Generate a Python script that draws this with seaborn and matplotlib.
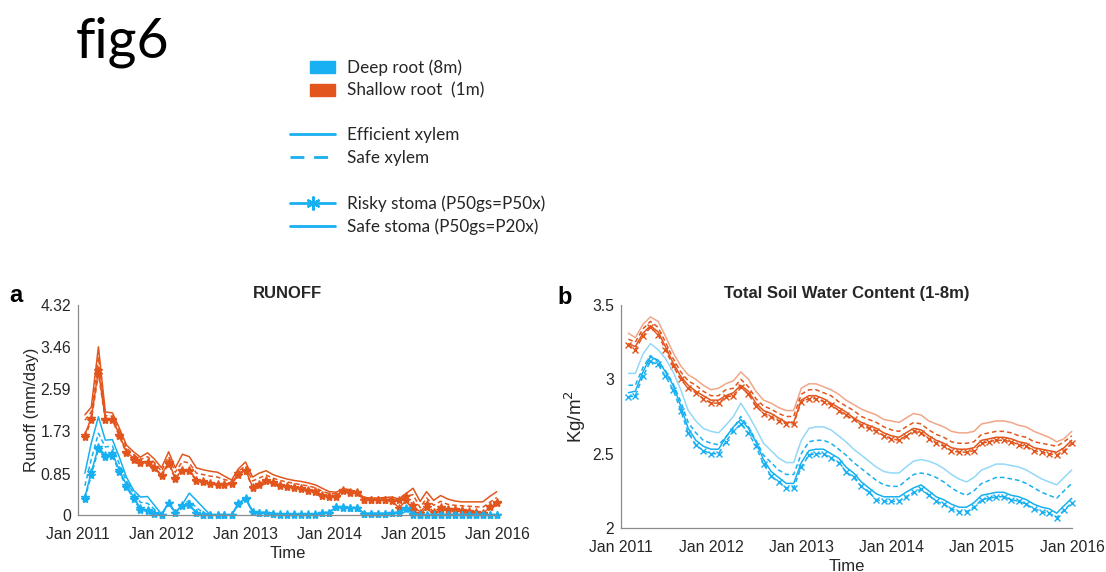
import pandas as pd
import matplotlib
matplotlib.use("Agg")
import matplotlib.pyplot as plt
import matplotlib.dates as mdates
from matplotlib.lines import Line2D
from matplotlib.patches import Patch, Rectangle
from matplotlib.legend_handler import HandlerPatch
import seaborn as sns

# ---------------------------------------------------------------- data
# monthly values, Jan 2011 .. Dec 2015 (month-end dates)
months = pd.date_range("2011-01-01", periods=60, freq="MS") + pd.offsets.MonthEnd(0)

# Runoff (mm/day) -- shallow root (1 m)
runoff_shallow_safe_eff = [2.06, 2.22, 3.46, 2.12, 2.10, 1.79, 1.44, 1.30, 1.19, 1.28, 1.15, 0.97,
                           1.30, 0.97, 1.25, 1.20, 0.97, 0.93, 0.90, 0.88, 0.80, 0.72, 0.95, 1.09,
                           0.78, 0.86, 0.91, 0.83, 0.78, 0.74, 0.71, 0.69, 0.66, 0.62, 0.55, 0.48,
                           0.47, 0.54, 0.52, 0.48, 0.36, 0.35, 0.35, 0.36, 0.37, 0.33, 0.44, 0.55,
                           0.28, 0.48, 0.30, 0.40, 0.33, 0.29, 0.27, 0.27, 0.27, 0.27, 0.38, 0.48]
runoff_shallow_safe_safe = [1.95, 2.12, 3.25, 2.05, 2.03, 1.72, 1.38, 1.24, 1.14, 1.20, 1.08, 0.90,
                            1.20, 0.88, 1.10, 1.07, 0.86, 0.83, 0.80, 0.78, 0.73, 0.69, 0.90, 1.01,
                            0.70, 0.76, 0.82, 0.76, 0.71, 0.68, 0.65, 0.62, 0.60, 0.56, 0.49, 0.44,
                            0.44, 0.53, 0.50, 0.47, 0.34, 0.33, 0.33, 0.34, 0.34, 0.27, 0.38, 0.42,
                            0.15, 0.35, 0.20, 0.28, 0.22, 0.20, 0.19, 0.18, 0.17, 0.16, 0.26, 0.36]
runoff_shallow_risky_eff = [1.65, 2.00, 2.98, 1.98, 1.98, 1.65, 1.30, 1.17, 1.09, 1.10, 0.99, 0.82,
                            1.09, 0.76, 0.93, 0.93, 0.72, 0.70, 0.66, 0.64, 0.64, 0.65, 0.86, 0.93,
                            0.58, 0.64, 0.72, 0.67, 0.62, 0.60, 0.57, 0.55, 0.52, 0.50, 0.41, 0.40,
                            0.40, 0.51, 0.47, 0.47, 0.31, 0.31, 0.31, 0.31, 0.30, 0.14, 0.30, 0.10,
                            0.00, 0.16, 0.00, 0.10, 0.10, 0.08, 0.08, 0.05, 0.03, 0.02, 0.16, 0.24]
runoff_shallow_risky_safe = [1.60, 1.95, 2.90, 1.96, 1.95, 1.62, 1.27, 1.14, 1.07, 1.08, 0.97, 0.80,
                             1.05, 0.74, 0.91, 0.90, 0.70, 0.68, 0.64, 0.62, 0.62, 0.63, 0.83, 0.90,
                             0.56, 0.62, 0.70, 0.65, 0.60, 0.58, 0.55, 0.53, 0.50, 0.48, 0.40, 0.38,
                             0.38, 0.49, 0.46, 0.45, 0.30, 0.30, 0.30, 0.30, 0.28, 0.30, 0.40, 0.20,
                             0.05, 0.22, 0.06, 0.16, 0.13, 0.12, 0.11, 0.09, 0.07, 0.05, 0.18, 0.26]

# Runoff (mm/day) -- deep root (8 m)
runoff_deep_safe_eff = [0.86, 1.48, 2.02, 1.54, 1.55, 1.19, 0.78, 0.51, 0.37, 0.38, 0.20, 0.02,
                        0.25, 0.05, 0.22, 0.45, 0.30, 0.15, 0.00, 0.00, 0.00, 0.00, 0.22, 0.35,
                        0.07, 0.05, 0.05, 0.03, 0.02, 0.02, 0.02, 0.02, 0.02, 0.02, 0.04, 0.05,
                        0.17, 0.16, 0.15, 0.15, 0.03, 0.03, 0.03, 0.03, 0.03, 0.05, 0.15, 0.02,
                        0.00, 0.00, 0.00, 0.00, 0.00, 0.00, 0.00, 0.00, 0.00, 0.00, 0.00, 0.00]
runoff_deep_safe_safe = [0.60, 1.15, 1.68, 1.40, 1.42, 1.05, 0.70, 0.45, 0.26, 0.24, 0.12, 0.00,
                         0.25, 0.05, 0.20, 0.30, 0.15, 0.05, 0.00, 0.00, 0.00, 0.00, 0.23, 0.35,
                         0.07, 0.05, 0.05, 0.03, 0.02, 0.02, 0.02, 0.02, 0.02, 0.02, 0.04, 0.05,
                         0.17, 0.16, 0.15, 0.15, 0.03, 0.03, 0.03, 0.03, 0.04, 0.05, 0.15, 0.02,
                         0.00, 0.00, 0.00, 0.00, 0.00, 0.00, 0.00, 0.00, 0.00, 0.00, 0.00, 0.00]
runoff_deep_risky_eff = [0.37, 0.88, 1.40, 1.23, 1.27, 0.92, 0.62, 0.37, 0.14, 0.10, 0.05, 0.00,
                         0.25, 0.05, 0.20, 0.22, 0.05, 0.00, 0.00, 0.00, 0.00, 0.00, 0.24, 0.35,
                         0.07, 0.05, 0.05, 0.03, 0.02, 0.02, 0.02, 0.02, 0.02, 0.02, 0.05, 0.05,
                         0.17, 0.16, 0.15, 0.15, 0.03, 0.03, 0.03, 0.03, 0.05, 0.05, 0.15, 0.02,
                         0.00, 0.00, 0.00, 0.00, 0.00, 0.00, 0.00, 0.00, 0.00, 0.00, 0.00, 0.00]
runoff_deep_risky_safe = [0.33, 0.82, 1.35, 1.20, 1.22, 0.88, 0.58, 0.33, 0.10, 0.08, 0.03, 0.00,
                          0.24, 0.04, 0.19, 0.20, 0.04, 0.00, 0.00, 0.00, 0.00, 0.00, 0.22, 0.33,
                          0.06, 0.04, 0.04, 0.02, 0.01, 0.01, 0.01, 0.01, 0.01, 0.01, 0.04, 0.04,
                          0.16, 0.15, 0.14, 0.14, 0.02, 0.02, 0.02, 0.02, 0.04, 0.04, 0.13, 0.01,
                          0.00, 0.00, 0.00, 0.00, 0.00, 0.00, 0.00, 0.00, 0.00, 0.00, 0.00, 0.00]

# Total soil water content 1-8 m (Kg/m2) -- shallow root
swc_shallow_safe_eff = [3.31, 3.28, 3.37, 3.42, 3.39, 3.29, 3.18, 3.09, 3.03, 3.00, 2.96, 2.93,
                        2.94, 2.97, 2.99, 3.05, 3.00, 2.92, 2.86, 2.84, 2.81, 2.79, 2.79, 2.94,
                        2.97, 2.97, 2.95, 2.93, 2.90, 2.86, 2.83, 2.80, 2.78, 2.76, 2.73, 2.72,
                        2.71, 2.74, 2.77, 2.76, 2.72, 2.70, 2.68, 2.65, 2.64, 2.64, 2.65, 2.70,
                        2.71, 2.72, 2.72, 2.71, 2.69, 2.68, 2.65, 2.63, 2.61, 2.58, 2.60, 2.65]
swc_shallow_safe_safe = [3.27, 3.25, 3.34, 3.39, 3.35, 3.25, 3.14, 3.05, 2.99, 2.96, 2.92, 2.89,
                         2.89, 2.93, 2.94, 3.00, 2.95, 2.87, 2.82, 2.80, 2.77, 2.75, 2.75, 2.90,
                         2.93, 2.93, 2.91, 2.89, 2.85, 2.82, 2.79, 2.75, 2.73, 2.71, 2.68, 2.66,
                         2.65, 2.68, 2.71, 2.70, 2.66, 2.63, 2.61, 2.58, 2.57, 2.57, 2.58, 2.63,
                         2.64, 2.65, 2.65, 2.64, 2.62, 2.61, 2.58, 2.57, 2.56, 2.55, 2.58, 2.62]
swc_shallow_risky_eff = [3.24, 3.22, 3.31, 3.36, 3.32, 3.22, 3.11, 3.02, 2.96, 2.92, 2.89, 2.86,
                         2.86, 2.89, 2.91, 2.96, 2.92, 2.84, 2.79, 2.77, 2.74, 2.71, 2.71, 2.86,
                         2.89, 2.89, 2.87, 2.84, 2.81, 2.78, 2.74, 2.71, 2.69, 2.67, 2.64, 2.62,
                         2.61, 2.64, 2.67, 2.66, 2.62, 2.59, 2.57, 2.54, 2.53, 2.53, 2.54, 2.59,
                         2.60, 2.61, 2.61, 2.60, 2.58, 2.57, 2.54, 2.53, 2.52, 2.51, 2.54, 2.59]
swc_shallow_risky_safe = [3.23, 3.20, 3.29, 3.35, 3.30, 3.20, 3.09, 3.00, 2.94, 2.91, 2.87, 2.84,
                          2.84, 2.88, 2.89, 2.95, 2.90, 2.82, 2.77, 2.75, 2.72, 2.70, 2.70, 2.85,
                          2.87, 2.87, 2.85, 2.83, 2.79, 2.76, 2.73, 2.69, 2.67, 2.65, 2.62, 2.60,
                          2.59, 2.62, 2.65, 2.64, 2.60, 2.57, 2.55, 2.52, 2.51, 2.51, 2.52, 2.57,
                          2.58, 2.59, 2.59, 2.58, 2.56, 2.55, 2.52, 2.51, 2.50, 2.49, 2.52, 2.57]

# Total soil water content 1-8 m (Kg/m2) -- deep root
swc_deep_safe_eff = [3.04, 3.04, 3.17, 3.24, 3.20, 3.14, 3.05, 2.93, 2.79, 2.72, 2.67, 2.65,
                     2.64, 2.69, 2.75, 2.84, 2.76, 2.67, 2.57, 2.52, 2.47, 2.44, 2.44, 2.59,
                     2.67, 2.68, 2.68, 2.66, 2.62, 2.58, 2.53, 2.49, 2.45, 2.41, 2.38, 2.37,
                     2.37, 2.41, 2.45, 2.46, 2.45, 2.43, 2.40, 2.36, 2.33, 2.31, 2.34, 2.39,
                     2.41, 2.43, 2.43, 2.42, 2.41, 2.39, 2.36, 2.33, 2.31, 2.29, 2.34, 2.39]
swc_deep_safe_safe = [2.96, 2.96, 3.08, 3.16, 3.12, 3.06, 2.97, 2.85, 2.71, 2.64, 2.59, 2.57,
                      2.56, 2.61, 2.67, 2.75, 2.68, 2.59, 2.49, 2.44, 2.39, 2.36, 2.36, 2.50,
                      2.58, 2.59, 2.59, 2.57, 2.53, 2.49, 2.44, 2.40, 2.36, 2.32, 2.29, 2.28,
                      2.28, 2.32, 2.36, 2.37, 2.36, 2.34, 2.31, 2.27, 2.24, 2.22, 2.25, 2.30,
                      2.32, 2.34, 2.34, 2.33, 2.32, 2.30, 2.27, 2.24, 2.22, 2.20, 2.25, 2.30]
swc_deep_risky_eff = [2.91, 2.92, 3.05, 3.15, 3.13, 3.05, 2.96, 2.82, 2.67, 2.59, 2.55, 2.53,
                      2.53, 2.61, 2.68, 2.73, 2.67, 2.58, 2.46, 2.38, 2.34, 2.30, 2.30, 2.44,
                      2.52, 2.53, 2.53, 2.50, 2.47, 2.41, 2.37, 2.31, 2.27, 2.23, 2.21, 2.21,
                      2.21, 2.24, 2.27, 2.29, 2.25, 2.21, 2.19, 2.16, 2.14, 2.14, 2.17, 2.22,
                      2.23, 2.24, 2.24, 2.22, 2.21, 2.19, 2.16, 2.14, 2.13, 2.10, 2.15, 2.20]
swc_deep_risky_safe = [2.88, 2.89, 3.02, 3.12, 3.10, 3.02, 2.93, 2.79, 2.64, 2.56, 2.52, 2.50,
                       2.50, 2.58, 2.65, 2.70, 2.64, 2.55, 2.43, 2.35, 2.31, 2.27, 2.27, 2.41,
                       2.49, 2.50, 2.50, 2.47, 2.44, 2.38, 2.34, 2.28, 2.24, 2.19, 2.18, 2.18,
                       2.18, 2.21, 2.24, 2.26, 2.22, 2.18, 2.16, 2.13, 2.11, 2.11, 2.14, 2.19,
                       2.20, 2.21, 2.21, 2.19, 2.18, 2.16, 2.13, 2.11, 2.10, 2.07, 2.12, 2.17]

runoff_ticks = [0, 0.85, 1.73, 2.59, 3.46, 4.32]
runoff_ticklabels = ["0", "0.85", "1.73", "2.59", "3.46", "4.32"]
swc_ticks = [2, 2.5, 3, 3.5]
swc_ticklabels = ["2", "2.5", "3", "3.5"]

legend_labels = ["Deep root (8m)", "Shallow root  (1m)", " ",
                 "Efficient xylem", "Safe xylem", " ",
                 "Risky stoma (P50gs=P50x)", "Safe stoma (P50gs=P20x)"]

# ---------------------------------------------------------------- style
BLUE = "#18b0f0"
ORANGE = "#e2561e"
LIGHT_BLUE = "#93d8f8"
LIGHT_ORANGE = "#f2a688"
AXIS_GREY = "#8a8a8a"
TEXT = "#262626"

sns.set_style("white")
plt.rcParams["font.family"] = ["Liberation Sans", "DejaVu Sans"]

W, H = 1106, 572
fig = plt.figure(figsize=(W / 100, H / 100), dpi=100)
fig.patch.set_facecolor("white")

ax_a = fig.add_axes([78 / W, 1 - 515 / H, 419 / W, 210 / H])
ax_b = fig.add_axes([621 / W, 1 - 528 / H, 451 / W, 223 / H])

df = pd.DataFrame({"month": months})


def draw(ax, values, color, ls="-", marker=None, ms=5, mew=1.0, lw=1.1):
    sns.lineplot(x=df["month"], y=values, ax=ax, color=color, linestyle=ls,
                 marker=marker, markersize=ms, markeredgewidth=mew,
                 markeredgecolor=color, markerfacecolor=color,
                 linewidth=lw, clip_on=False, legend=False)


# panel a: runoff
star = "*"
draw(ax_a, runoff_shallow_safe_eff, ORANGE)
draw(ax_a, runoff_shallow_safe_safe, ORANGE, ls=(0, (3, 2)))
draw(ax_a, runoff_shallow_risky_safe, ORANGE, ls=(0, (3, 2)), marker=star, ms=6)
draw(ax_a, runoff_shallow_risky_eff, ORANGE, marker=star, ms=6)
draw(ax_a, runoff_deep_safe_eff, BLUE)
draw(ax_a, runoff_deep_safe_safe, BLUE, ls=(0, (3, 2)))
draw(ax_a, runoff_deep_risky_safe, BLUE, ls=(0, (3, 2)), marker=star, ms=6)
draw(ax_a, runoff_deep_risky_eff, BLUE, marker=star, ms=6)

# panel b: total soil water content
draw(ax_b, swc_shallow_safe_eff, LIGHT_ORANGE)
draw(ax_b, swc_shallow_safe_safe, ORANGE, ls=(0, (3, 2)))
draw(ax_b, swc_shallow_risky_safe, ORANGE, ls=(0, (3, 2)), marker="x", ms=4.5)
draw(ax_b, swc_shallow_risky_eff, ORANGE)
draw(ax_b, swc_deep_safe_eff, LIGHT_BLUE)
draw(ax_b, swc_deep_safe_safe, BLUE, ls=(0, (3, 2)))
draw(ax_b, swc_deep_risky_safe, BLUE, ls=(0, (3, 2)), marker="x", ms=4.5)
draw(ax_b, swc_deep_risky_eff, BLUE)

# axes cosmetics
xticks = pd.date_range("2011-01-01", "2016-01-01", freq="6MS")
xticklabels = [d.strftime("Jan %Y") if d.month == 1 else "" for d in xticks]
for ax in (ax_a, ax_b):
    ax.set_facecolor("white")
    ax.set_xlim(pd.Timestamp("2011-01-01"), pd.Timestamp("2016-01-01"))
    ax.set_xticks(mdates.date2num(xticks))
    ax.set_xticklabels(xticklabels)
    for side in ("top", "right"):
        ax.spines[side].set_visible(False)
    for side in ("left", "bottom"):
        ax.spines[side].set_color(AXIS_GREY)
        ax.spines[side].set_linewidth(0.9)
    ax.tick_params(direction="in", length=4, width=0.9, color=AXIS_GREY,
                   labelcolor=TEXT, labelsize=11.3)
    ax.tick_params(axis="x", pad=8.5)
    ax.tick_params(axis="y", pad=5)
    ax.set_xlabel("Time", fontsize=12, color=TEXT, labelpad=3)
    ax.grid(False)

ax_a.set_ylim(0, 4.32)
ax_a.set_yticks(runoff_ticks)
ax_a.set_yticklabels(runoff_ticklabels)
ax_a.set_ylabel("Runoff (mm/day)", fontsize=12, color=TEXT, labelpad=1)
ax_a.set_title("RUNOFF", fontsize=12, fontweight="bold", color=TEXT, pad=5)

ax_b.set_ylim(2, 3.5)
ax_b.set_yticks(swc_ticks)
ax_b.set_yticklabels(swc_ticklabels)
ax_b.set_ylabel("Kg/m$^2$", fontsize=13.5, color=TEXT, labelpad=3)
ax_b.set_title("Total Soil Water Content (1-8m)", fontsize=12, fontweight="bold",
               color=TEXT, pad=5)

# panel letters and heading
fig.text(9 / W, 1 - 296 / H, "a", fontsize=17, fontweight="bold", va="center", color="black")
fig.text(557 / W, 1 - 298 / H, "b", fontsize=17, fontweight="bold", va="center", color="black")
fig.text(76 / W, 1 - 57 / H, "fig6", fontsize=40, family=["Lato", "DejaVu Sans"],
         va="baseline", ha="left", color="black")


# legend: boxes for root depth, line styles for xylem / stoma
def narrow_box(legend, orig_handle, xdescent, ydescent, width, height, fontsize):
    return Rectangle((-xdescent + 0.44 * width, -ydescent - 0.05 * height),
                     0.56 * width, 1.0 * height)


asterisk = (6, 2, 0)
blank = Line2D([], [], color="none")
handles = [Patch(facecolor=BLUE, edgecolor=BLUE),
           Patch(facecolor=ORANGE, edgecolor=ORANGE),
           blank,
           Line2D([], [], color=BLUE, lw=2),
           Line2D([], [], color=BLUE, lw=2, linestyle=(0, (5, 3.5))),
           Line2D([], [], color="none"),
           Line2D([], [], color=BLUE, lw=2, marker=asterisk, markersize=10,
                  markeredgewidth=1.6),
           Line2D([], [], color=BLUE, lw=2)]
fig.legend(handles, legend_labels, loc="upper left",
           bbox_to_anchor=(290 / W, 1 - 59 / H), frameon=False,
           prop={"family": ["Lato", "DejaVu Sans"], "size": 12.3},
           handlelength=2.65, handletextpad=0.7, labelspacing=0.385,
           borderpad=0, borderaxespad=0, numpoints=1,
           handler_map={Patch: HandlerPatch(patch_func=narrow_box)})

fig.savefig("out.png", dpi=100, facecolor="white")
